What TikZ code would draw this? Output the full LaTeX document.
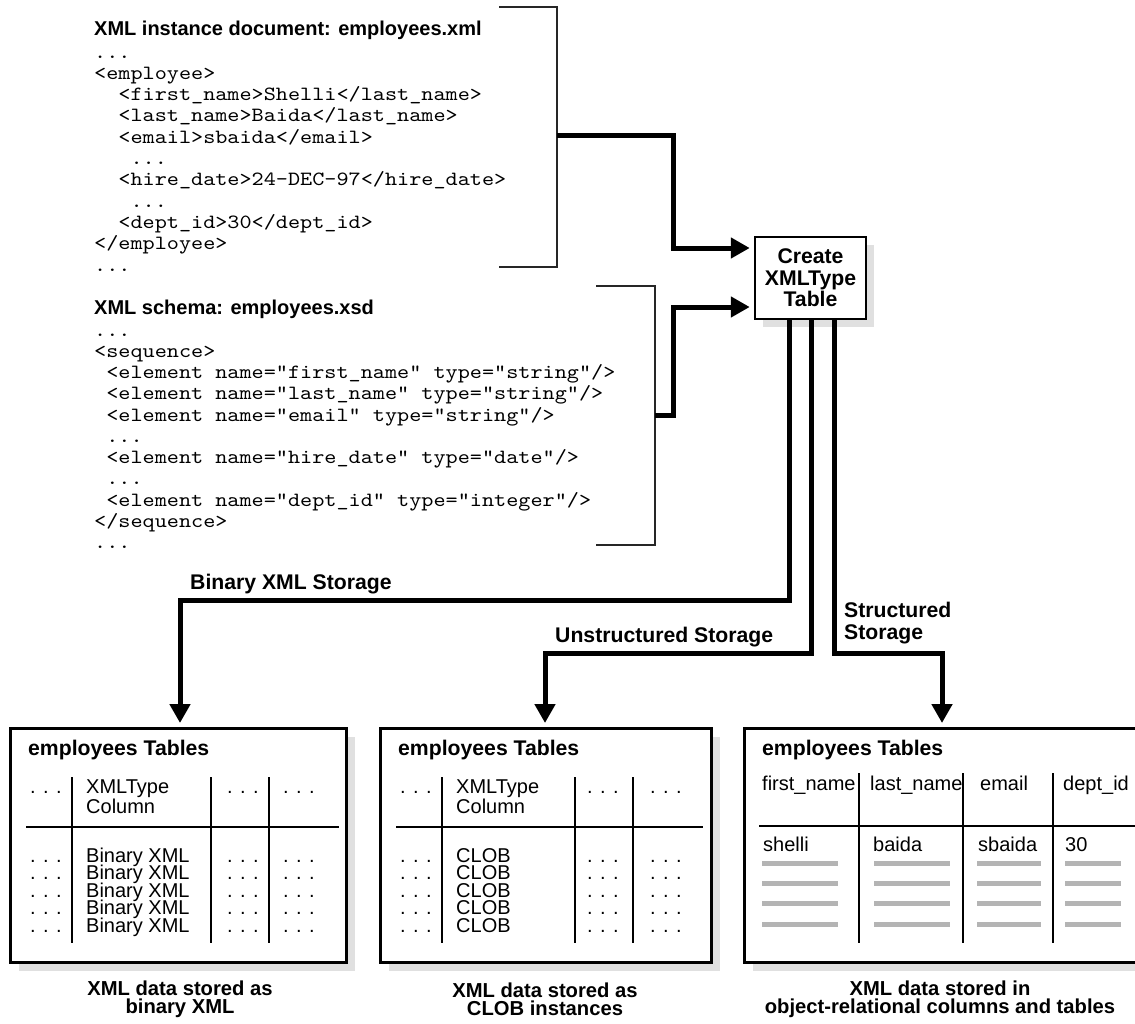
\documentclass[tikz,border=0pt]{standalone}
\usepackage{fontspec}
\setmainfont{Liberation Sans}
\newfontfamily\codefont{lmmono10-regular}[Extension=.otf, FakeStretch=1.143]
\usetikzlibrary{arrows.meta,shadows,calc}
\definecolor{shadowgray}{HTML}{E0E0E0}
\definecolor{bargray}{HTML}{B4B4B4}
\begin{document}
\begin{tikzpicture}[x=1pt,y=-1pt,
  code/.style={font=\codefont\fontsize{20.2}{21.3}\selectfont, anchor=base west, inner sep=0pt},
  lbl/.style={font=\bfseries\fontsize{21.2}{21.5}\selectfont, inner sep=0pt},
  ttl/.style={font=\bfseries\fontsize{20}{21}\selectfont, inner sep=0pt, anchor=base west},
  captxt/.style={font=\bfseries\fontsize{20.2}{18}\selectfont, inner sep=0pt, align=center},
  txt/.style={font=\fontsize{20}{20}\selectfont, anchor=base west, inner sep=0pt},
  row/.style={txt, text height=13pt, text depth=3pt},
  brk/.style={draw=black!85, line width=1.5pt},
  conn/.style={line width=5pt, -{Triangle[length=19pt,width=20pt]}, shorten >=4pt},
  tbl/.style={draw, line width=2.5pt, minimum height=234pt, inner sep=0pt, anchor=north west, fill=white,
    drop shadow={shadow xshift=9pt, shadow yshift=-9pt, fill=shadowgray, opacity=1}},
  rule/.style={line width=2pt},
  bar/.style={line width=5pt, draw=bargray},
]
\useasboundingbox (0,0) rectangle (1135,1023);

% ---------- XML instance document ----------
\node[ttl] (ititle) at (94,35) {XML instance document: employees.xml};
\node[code] (i0) at (94,58) {...};
\node[code] (i1) at (94,79.3) {<employee>};
\node[code] (i2) at (118.2,100.6) {<first\_name>Shelli</last\_name>};
\node[code] (i3) at (118.2,121.9) {<last\_name>Baida</last\_name>};
\node[code] (i4) at (118.2,143.2) {<email>sbaida</email>};
\node[code] (i5) at (130.4,164.5) {...};
\node[code] (i6) at (118.2,185.8) {<hire\_date>24-DEC-97</hire\_date>};
\node[code] (i7) at (130.4,207.1) {...};
\node[code] (i8) at (118.2,228.4) {<dept\_id>30</dept\_id>};
\node[code] (i9) at (94,249.7) {</employee>};
\node[code] (i10) at (94,271) {...};
\draw[brk] (499,7) -| (557,267) -- (499,267);
\coordinate (b1) at (557,135);
\coordinate (j1) at (673,135);

% ---------- XML schema ----------
\node[ttl] (stitle) at (94,314) {XML schema: employees.xsd};
\node[code] (s0) at (94,336) {...};
\node[code] (s1) at (94,357.25) {<sequence>};
\node[code] (s2) at (106.1,378.5) {<element name="first\_name" type="string"/>};
\node[code] (s3) at (106.1,399.75) {<element name="last\_name" type="string"/>};
\node[code] (s4) at (106.1,421) {<element name="email" type="string"/>};
\node[code] (s5) at (106.1,442.25) {...};
\node[code] (s6) at (106.1,463.5) {<element name="hire\_date" type="date"/>};
\node[code] (s7) at (106.1,484.75) {...};
\node[code] (s8) at (106.1,506) {<element name="dept\_id" type="integer"/>};
\node[code] (s9) at (94,527.25) {</sequence>};
\node[code] (s10) at (94,548.5) {...};
\draw[brk] (596,286) -| (655,545) -- (596,545);
\coordinate (b2) at (655,415);
\coordinate (j2) at (673,415);

% ---------- Create box ----------
\node[lbl, draw, line width=2.5pt, fill=white, minimum width=111pt, minimum height=82pt, align=center,
  drop shadow={shadow xshift=8pt, shadow yshift=-8pt, fill=shadowgray, opacity=1}]
  (create) at (810.5,278) {Create\\XMLType\\Table};

\draw[conn] (b1) -- (j1) |- ([yshift=30pt]create.west);
\draw[conn] (b2) -- (j2) |- ([yshift=-29pt]create.west);

% ---------- Tables ----------
\node[tbl, minimum width=336pt] (tab1) at (9,727) {};
\node[tbl, minimum width=331pt] (tab2) at (379,727) {};
\node[tbl, minimum width=398pt] (tab3) at (743,727) {};

% table 1
\begin{scope}[shift={(9,727)}]
  \node[lbl, anchor=base west] (t1title) at (19,28) {employees Tables};
  \draw[rule] (63,50) -- (63,216);
  \draw[rule] (202,50) -- (202,216);
  \draw[rule] (260,50) -- (260,216);
  \draw[rule] (17,100) -- (330,100);
  \node[txt] (t1h1) at (21,66) {. . .};
  \node[row] (t1h2) at (77,66) {XMLType};
  \node[row] (t1h3) at (77,86) {Column};
  \node[txt] (t1h4) at (218,66) {. . .};
  \node[txt] (t1h5) at (274,66) {. . .};
  \foreach \j in {0,...,4} {
    \node[row] (t1a\j) at (21,{135+17.5*\j}) {. . .};
    \node[row] (t1b\j) at (77,{135+17.5*\j}) {Binary XML};
    \node[row] (t1c\j) at (218,{135+17.5*\j}) {. . .};
    \node[row] (t1d\j) at (274,{135+17.5*\j}) {. . .};
  }
\end{scope}

% table 2
\begin{scope}[shift={(379,727)}]
  \node[lbl, anchor=base west] (t2title) at (19,28) {employees Tables};
  \draw[rule] (63,50) -- (63,216);
  \draw[rule] (196,50) -- (196,216);
  \draw[rule] (254,50) -- (254,216);
  \draw[rule] (17,100) -- (324,100);
  \node[txt] (t2h1) at (21,66) {. . .};
  \node[row] (t2h2) at (77,66) {XMLType};
  \node[row] (t2h3) at (77,86) {Column};
  \node[txt] (t2h4) at (208,66) {. . .};
  \node[txt] (t2h5) at (271,66) {. . .};
  \foreach \j in {0,...,4} {
    \node[row] (t2a\j) at (21,{135+17.5*\j}) {. . .};
    \node[row] (t2b\j) at (77,{135+17.5*\j}) {CLOB};
    \node[row] (t2c\j) at (208,{135+17.5*\j}) {. . .};
    \node[row] (t2d\j) at (271,{135+17.5*\j}) {. . .};
  }
\end{scope}

% table 3
\begin{scope}[shift={(743,727)}]
  \node[lbl, anchor=base west] (t3title) at (19,28) {employees Tables};
  \draw[rule] (116,46) -- (116,216);
  \draw[rule] (220,46) -- (220,216);
  \draw[rule] (310,46) -- (310,216);
  \draw[rule] (16,99) -- (400,99);
  \node[txt] (t3h1) at (19,63) {first\_name};
  \node[txt] (t3h2) at (127,63) {last\_name};
  \node[txt] (t3h3) at (237,63) {email};
  \node[txt] (t3h4) at (320,63) {dept\_id};
  \node[txt] (t3d1) at (20,124) {shelli};
  \node[txt] (t3d2) at (130,124) {baida};
  \node[txt] (t3d3) at (235,124) {sbaida};
  \node[txt] (t3d4) at (322,124) {30};
  \foreach \yy in {136,156.5,176.5,197} {
    \draw[bar] (19,\yy) -- (95,\yy);
    \draw[bar] (131,\yy) -- (207,\yy);
    \draw[bar] (234,\yy) -- (298,\yy);
    \draw[bar] (322,\yy) -- (378,\yy);
  }
\end{scope}

% ---------- Outgoing connectors ----------
\coordinate (bincorner) at (180,600);
\coordinate (unscorner) at (545,653);
\coordinate (strcorner) at (942,653);
\draw[conn] ([xshift=-21.5pt]create.south) |- (bincorner) -- (bincorner |- tab1.north);
\draw[conn] ([xshift=0.5pt]create.south) |- (unscorner) -- (unscorner |- tab2.north);
\draw[conn] ([xshift=23.5pt]create.south) |- (strcorner) -- (strcorner |- tab3.north);

\node[lbl, anchor=base west] (binlbl) at (190,589) {Binary XML Storage};
\node[lbl, anchor=base west] (unslbl) at (555,642) {Unstructured Storage};
\node[lbl, anchor=west, align=left] (strlbl) at (844,623) {Structured\\Storage};

% ---------- Captions ----------
\node[captxt] (cap1) at (180,999) {XML data stored as\\binary XML};
\node[captxt] (cap2) at (545,999) {XML data stored as\\CLOB instances};
\node[captxt] (cap3) at (940,999) {XML data stored in\\object-relational columns and tables};
\end{tikzpicture}
\end{document}
